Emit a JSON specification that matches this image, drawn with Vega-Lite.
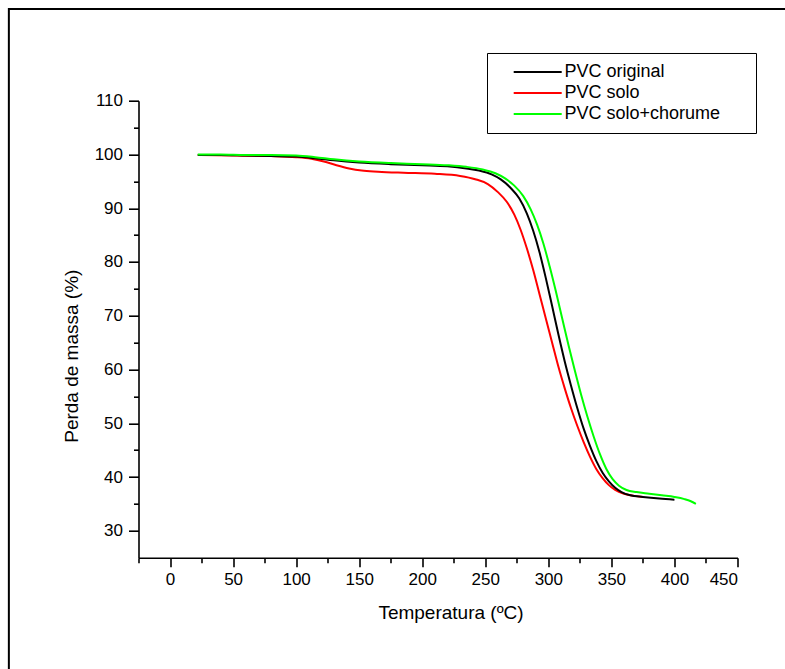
{
  "$schema": "https://vega.github.io/schema/vega-lite/v6.json",
  "width": 599,
  "height": 457,
  "autosize": {"type": "none"},
  "padding": {"left": 138.5, "top": 100.7, "right": 47.5, "bottom": 111.3},
  "background": "white",
  "config": {
    "view": {"stroke": null},
    "font": "Liberation Sans",
    "axis": {
      "grid": false,
      "domainColor": "black",
      "domainWidth": 1.6,
      "tickColor": "black",
      "tickWidth": 1.6,
      "labelColor": "black",
      "labelFont": "Liberation Sans",
      "labelFontSize": 17,
      "titleFont": "Liberation Sans",
      "titleFontSize": 19,
      "titleFontWeight": "normal",
      "titleColor": "black"
    }
  },
  "resolve": {"axis": {"x": "independent", "y": "independent"}},
  "layer": [
    {
      "data": {"values": [{}]},
      "mark": {"type": "rect", "filled": false, "stroke": "black", "strokeWidth": 2, "clip": false},
      "encoding": {
        "x": {
          "datum": -127.8,
          "type": "quantitative",
          "scale": {"domain": [-25, 450], "nice": false, "zero": false},
          "axis": {"orient": "bottom", "values": [-25, 25, 75, 125, 175, 225, 275, 325, 375, 425], "tickSize": 5, "labels": false, "domain": false, "title": null}
        },
        "x2": {"datum": 700},
        "y": {
          "datum": 127.04,
          "type": "quantitative",
          "scale": {"domain": [25, 110], "nice": false, "zero": false},
          "axis": {"orient": "left", "values": [35, 45, 55, 65, 75, 85, 95, 105], "tickSize": 5, "labels": false, "domain": false, "title": null}
        },
        "y2": {"datum": -20}
      }
    },
    {
      "data": {
        "values": [
          {"amostra": "PVC solo", "temperatura": 22, "massa": 99.9},
          {"amostra": "PVC solo", "temperatura": 50, "massa": 99.8},
          {"amostra": "PVC solo", "temperatura": 80, "massa": 99.7},
          {"amostra": "PVC solo", "temperatura": 100, "massa": 99.5},
          {"amostra": "PVC solo", "temperatura": 112, "massa": 99.2},
          {"amostra": "PVC solo", "temperatura": 122, "massa": 98.7},
          {"amostra": "PVC solo", "temperatura": 132, "massa": 98.0},
          {"amostra": "PVC solo", "temperatura": 142, "massa": 97.4},
          {"amostra": "PVC solo", "temperatura": 152, "massa": 97.0},
          {"amostra": "PVC solo", "temperatura": 165, "massa": 96.8},
          {"amostra": "PVC solo", "temperatura": 185, "massa": 96.6},
          {"amostra": "PVC solo", "temperatura": 210, "massa": 96.4},
          {"amostra": "PVC solo", "temperatura": 230, "massa": 96.0},
          {"amostra": "PVC solo", "temperatura": 242, "massa": 95.4},
          {"amostra": "PVC solo", "temperatura": 252, "massa": 94.5},
          {"amostra": "PVC solo", "temperatura": 260, "massa": 93.0},
          {"amostra": "PVC solo", "temperatura": 267, "massa": 91.2},
          {"amostra": "PVC solo", "temperatura": 273, "massa": 88.8},
          {"amostra": "PVC solo", "temperatura": 278, "massa": 86.0},
          {"amostra": "PVC solo", "temperatura": 283, "massa": 82.5},
          {"amostra": "PVC solo", "temperatura": 288, "massa": 78.5},
          {"amostra": "PVC solo", "temperatura": 293, "massa": 74.0},
          {"amostra": "PVC solo", "temperatura": 298, "massa": 69.5},
          {"amostra": "PVC solo", "temperatura": 303, "massa": 65.0},
          {"amostra": "PVC solo", "temperatura": 308, "massa": 60.5},
          {"amostra": "PVC solo", "temperatura": 313, "massa": 56.5},
          {"amostra": "PVC solo", "temperatura": 318, "massa": 52.8},
          {"amostra": "PVC solo", "temperatura": 323, "massa": 49.5},
          {"amostra": "PVC solo", "temperatura": 328, "massa": 46.5},
          {"amostra": "PVC solo", "temperatura": 333, "massa": 43.8},
          {"amostra": "PVC solo", "temperatura": 338, "massa": 41.5},
          {"amostra": "PVC solo", "temperatura": 343, "massa": 39.8},
          {"amostra": "PVC solo", "temperatura": 348, "massa": 38.5},
          {"amostra": "PVC solo", "temperatura": 353, "massa": 37.6},
          {"amostra": "PVC solo", "temperatura": 360, "massa": 36.9},
          {"amostra": "PVC solo", "temperatura": 368, "massa": 36.5},
          {"amostra": "PVC solo", "temperatura": 375, "massa": 36.3},

          {"amostra": "PVC original", "temperatura": 22, "massa": 99.9},
          {"amostra": "PVC original", "temperatura": 40, "massa": 99.9},
          {"amostra": "PVC original", "temperatura": 60, "massa": 99.8},
          {"amostra": "PVC original", "temperatura": 80, "massa": 99.7},
          {"amostra": "PVC original", "temperatura": 100, "massa": 99.6},
          {"amostra": "PVC original", "temperatura": 115, "massa": 99.3},
          {"amostra": "PVC original", "temperatura": 130, "massa": 98.9},
          {"amostra": "PVC original", "temperatura": 150, "massa": 98.5},
          {"amostra": "PVC original", "temperatura": 175, "massa": 98.2},
          {"amostra": "PVC original", "temperatura": 200, "massa": 98.0},
          {"amostra": "PVC original", "temperatura": 220, "massa": 97.8},
          {"amostra": "PVC original", "temperatura": 235, "massa": 97.4},
          {"amostra": "PVC original", "temperatura": 245, "massa": 97.0},
          {"amostra": "PVC original", "temperatura": 255, "massa": 96.3},
          {"amostra": "PVC original", "temperatura": 262, "massa": 95.4},
          {"amostra": "PVC original", "temperatura": 270, "massa": 93.8},
          {"amostra": "PVC original", "temperatura": 277, "massa": 91.8},
          {"amostra": "PVC original", "temperatura": 283, "massa": 89.0},
          {"amostra": "PVC original", "temperatura": 288, "massa": 85.8},
          {"amostra": "PVC original", "temperatura": 293, "massa": 81.8},
          {"amostra": "PVC original", "temperatura": 298, "massa": 77.0},
          {"amostra": "PVC original", "temperatura": 303, "massa": 71.8},
          {"amostra": "PVC original", "temperatura": 308, "massa": 66.5},
          {"amostra": "PVC original", "temperatura": 313, "massa": 61.5},
          {"amostra": "PVC original", "temperatura": 318, "massa": 57.0},
          {"amostra": "PVC original", "temperatura": 323, "massa": 52.8},
          {"amostra": "PVC original", "temperatura": 328, "massa": 49.0},
          {"amostra": "PVC original", "temperatura": 333, "massa": 45.8},
          {"amostra": "PVC original", "temperatura": 338, "massa": 43.0},
          {"amostra": "PVC original", "temperatura": 343, "massa": 40.8},
          {"amostra": "PVC original", "temperatura": 348, "massa": 39.2},
          {"amostra": "PVC original", "temperatura": 353, "massa": 38.0},
          {"amostra": "PVC original", "temperatura": 358, "massa": 37.2},
          {"amostra": "PVC original", "temperatura": 365, "massa": 36.6},
          {"amostra": "PVC original", "temperatura": 375, "massa": 36.3},
          {"amostra": "PVC original", "temperatura": 388, "massa": 36.0},
          {"amostra": "PVC original", "temperatura": 400, "massa": 35.8},

          {"amostra": "PVC solo+chorume", "temperatura": 22, "massa": 100.0},
          {"amostra": "PVC solo+chorume", "temperatura": 40, "massa": 100.0},
          {"amostra": "PVC solo+chorume", "temperatura": 60, "massa": 99.9},
          {"amostra": "PVC solo+chorume", "temperatura": 80, "massa": 99.9},
          {"amostra": "PVC solo+chorume", "temperatura": 100, "massa": 99.8},
          {"amostra": "PVC solo+chorume", "temperatura": 115, "massa": 99.5},
          {"amostra": "PVC solo+chorume", "temperatura": 130, "massa": 99.1},
          {"amostra": "PVC solo+chorume", "temperatura": 150, "massa": 98.7},
          {"amostra": "PVC solo+chorume", "temperatura": 175, "massa": 98.4},
          {"amostra": "PVC solo+chorume", "temperatura": 200, "massa": 98.2},
          {"amostra": "PVC solo+chorume", "temperatura": 220, "massa": 98.0},
          {"amostra": "PVC solo+chorume", "temperatura": 235, "massa": 97.7},
          {"amostra": "PVC solo+chorume", "temperatura": 248, "massa": 97.2},
          {"amostra": "PVC solo+chorume", "temperatura": 258, "massa": 96.5},
          {"amostra": "PVC solo+chorume", "temperatura": 266, "massa": 95.5},
          {"amostra": "PVC solo+chorume", "temperatura": 273, "massa": 94.2},
          {"amostra": "PVC solo+chorume", "temperatura": 280, "massa": 92.3},
          {"amostra": "PVC solo+chorume", "temperatura": 286, "massa": 89.8},
          {"amostra": "PVC solo+chorume", "temperatura": 291, "massa": 87.0},
          {"amostra": "PVC solo+chorume", "temperatura": 296, "massa": 83.5},
          {"amostra": "PVC solo+chorume", "temperatura": 301, "massa": 79.2},
          {"amostra": "PVC solo+chorume", "temperatura": 306, "massa": 74.5},
          {"amostra": "PVC solo+chorume", "temperatura": 311, "massa": 69.5},
          {"amostra": "PVC solo+chorume", "temperatura": 316, "massa": 64.5},
          {"amostra": "PVC solo+chorume", "temperatura": 321, "massa": 59.8},
          {"amostra": "PVC solo+chorume", "temperatura": 326, "massa": 55.3},
          {"amostra": "PVC solo+chorume", "temperatura": 331, "massa": 51.2},
          {"amostra": "PVC solo+chorume", "temperatura": 336, "massa": 47.5},
          {"amostra": "PVC solo+chorume", "temperatura": 341, "massa": 44.2},
          {"amostra": "PVC solo+chorume", "temperatura": 346, "massa": 41.5},
          {"amostra": "PVC solo+chorume", "temperatura": 351, "massa": 39.6},
          {"amostra": "PVC solo+chorume", "temperatura": 356, "massa": 38.4},
          {"amostra": "PVC solo+chorume", "temperatura": 362, "massa": 37.6},
          {"amostra": "PVC solo+chorume", "temperatura": 370, "massa": 37.2},
          {"amostra": "PVC solo+chorume", "temperatura": 380, "massa": 36.9},
          {"amostra": "PVC solo+chorume", "temperatura": 390, "massa": 36.6},
          {"amostra": "PVC solo+chorume", "temperatura": 400, "massa": 36.3},
          {"amostra": "PVC solo+chorume", "temperatura": 408, "massa": 35.9},
          {"amostra": "PVC solo+chorume", "temperatura": 413, "massa": 35.5},
          {"amostra": "PVC solo+chorume", "temperatura": 417, "massa": 35.0}
        ]
      },
      "mark": {"type": "line", "strokeWidth": 2, "interpolate": "monotone"},
      "encoding": {
        "x": {
          "field": "temperatura",
          "type": "quantitative",
          "scale": {"domain": [-25, 450], "nice": false, "zero": false},
          "axis": {"orient": "bottom", "values": [0, 50, 100, 150, 200, 250, 300, 350, 400, 450], "tickSize": 9, "labelPadding": 5, "title": "Temperatura (ºC)", "titlePadding": 16, "titleX": 312}
        },
        "y": {
          "field": "massa",
          "type": "quantitative",
          "scale": {"domain": [25, 110], "nice": false, "zero": false},
          "axis": {"orient": "left", "values": [30, 40, 50, 60, 70, 80, 90, 100, 110], "tickSize": 10, "labelPadding": 6, "title": "Perda de massa (%)", "titlePadding": 13, "titleY": 255}
        },
        "color": {
          "field": "amostra",
          "type": "nominal",
          "scale": {"domain": ["PVC original", "PVC solo", "PVC solo+chorume"], "range": ["#000000", "#ff0000", "#00ff00"]},
          "legend": {
            "orient": "none",
            "legendX": 348.5,
            "legendY": -47.7,
            "title": null,
            "padding": 10,
            "strokeColor": "black",
            "fillColor": "white",
            "symbolType": "M-4,0H4",
            "symbolSize": 144,
            "symbolStrokeWidth": 2,
            "symbolOffset": 31.7,
            "labelOffset": 17.7,
            "labelFont": "Liberation Sans",
            "labelFontSize": 18,
            "labelColor": "black",
            "labelLimit": 400,
            "labelExpr": "datum.label + '\u2800\u2800'",
            "rowPadding": 3
          }
        }
      }
    }
  ]
}
